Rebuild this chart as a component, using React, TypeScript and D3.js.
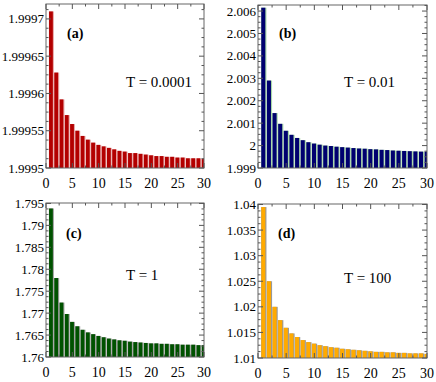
import { useEffect, useRef } from 'react'
import * as d3 from 'd3'

// x positions 1..30 for every panel
const steps = d3.range(1, 31)
const xTicks = [0, 5, 10, 15, 20, 25, 30]

// series
const seriesA = [1.99971, 1.999628, 1.999592, 1.999571, 1.999559, 1.99955, 1.999543, 1.999538, 1.999534, 1.999531,
  1.999529, 1.999527, 1.999525, 1.999523, 1.999522, 1.99952, 1.99952, 1.999519, 1.999518, 1.999517,
  1.999516, 1.999516, 1.999515, 1.999515, 1.999514, 1.999514, 1.999513, 1.999513, 1.999513, 1.999512]
const seriesB = [2.00615, 2.0029, 2.00145, 2.00097, 2.00066, 2.00048, 2.00034, 2.00024, 2.00015, 2.00009,
  2.00004, 2.0, 1.99998, 1.99995, 1.99993, 1.99991, 1.99989, 1.99987, 1.99986, 1.99984,
  1.99983, 1.99981, 1.9998, 1.99978, 1.99977, 1.99976, 1.99975, 1.99974, 1.99973, 1.99973]
const seriesC = [1.79385, 1.778, 1.7724, 1.7698, 1.768, 1.767, 1.7662, 1.7656, 1.7652, 1.7648,
  1.7645, 1.7642, 1.764, 1.7638, 1.7637, 1.7635, 1.7634, 1.7633, 1.7632, 1.7631,
  1.7631, 1.763, 1.763, 1.7629, 1.7629, 1.7628, 1.7628, 1.7628, 1.7627, 1.7627]
const seriesD = [1.0395, 1.025, 1.02, 1.0174, 1.0159, 1.0148, 1.0141, 1.0135, 1.0131, 1.0128,
  1.0125, 1.0123, 1.0121, 1.012, 1.0118, 1.0117, 1.0116, 1.0115, 1.0114, 1.0113,
  1.0112, 1.0112, 1.0111, 1.0111, 1.011, 1.011, 1.0109, 1.0109, 1.0109, 1.0108]

const yTicksA = [1.9995, 1.99955, 1.9996, 1.99965, 1.9997]
const yTicksB = [1.999, 2, 2.001, 2.002, 2.003, 2.004, 2.005, 2.006]
const yTicksC = [1.76, 1.765, 1.77, 1.775, 1.78, 1.785, 1.79, 1.795]
const yTicksD = [1.01, 1.015, 1.02, 1.025, 1.03, 1.035, 1.04]

const panelLabels = ['(a)', '(b)', '(c)', '(d)']
const tempLabels = ['T = 0.0001', 'T = 0.01', 'T = 1', 'T = 100']

const FONT = "'Liberation Serif', 'Times New Roman', 'DejaVu Serif', serif"
const fmt = (v: number) => String(parseFloat(v.toFixed(6)))

function App() {
  const svgRef = useRef<SVGSVGElement>(null)

  useEffect(() => {
    const svg = d3.select(svgRef.current)
    svg.selectAll('*').remove()

    // panel boxes and styles
    const panels = [
      { values: seriesA, ticks: yTicksA, domain: [1.9995, 1.99972], box: [46, 204, 4, 168], fill: '#b30000', edge: '#e8a8a8', tx: 126, ty: 87, lx: 67, ly: 38 },
      { values: seriesB, ticks: yTicksB, domain: [1.999, 2.00627], box: [258, 427, 5, 168], fill: '#000070', edge: '#a8d8a8', tx: 344, ty: 87, lx: 279, ly: 38 },
      { values: seriesC, ticks: yTicksC, domain: [1.76, 1.7951], box: [46, 204, 203, 357], fill: '#005200', edge: '#a0a0a0', tx: 126, ty: 280, lx: 66, ly: 238 },
      { values: seriesD, ticks: yTicksD, domain: [1.01, 1.0401], box: [258, 427, 204, 358], fill: '#ffaa00', edge: '#999999', tx: 344, ty: 283, lx: 278, ly: 238 },
    ]

    panels.forEach((p, pi) => {
      const [x0, x1, y0, y1] = p.box
      const x = d3.scaleLinear().domain([0, 30]).range([x0, x1])
      const y = d3.scaleLinear().domain(p.domain).range([y1, y0])
      const g = svg.append('g')

      const clipId = `clip-${pi}`
      g.append('clipPath').attr('id', clipId)
        .append('rect').attr('x', x0).attr('y', y0).attr('width', x1 - x0).attr('height', y1 - y0)

      const bars = g.append('g').attr('clip-path', `url(#${clipId})`)
      const data = steps.map((s, i) => ({ s, v: p.values[i] }))

      bars.selectAll('rect.edge').data(data).join('rect')
        .attr('class', 'edge')
        .attr('x', d => x(d.s - 0.45))
        .attr('y', d => y(d.v))
        .attr('width', x(0.95) - x(0))
        .attr('height', d => y1 - y(d.v))
        .attr('fill', p.edge)

      bars.selectAll('rect.bar').data(data).join('rect')
        .attr('class', 'bar')
        .attr('x', d => x(d.s - 0.42))
        .attr('y', d => y(d.v))
        .attr('width', x(0.72) - x(0))
        .attr('height', d => y1 - y(d.v))
        .attr('fill', p.fill)

      // frame
      g.append('rect')
        .attr('x', x0).attr('y', y0)
        .attr('width', x1 - x0).attr('height', y1 - y0)
        .attr('fill', 'none').attr('stroke', '#666').attr('stroke-width', 1)

      // y ticks, major and minor, inside on both sides
      const step = p.ticks[1] - p.ticks[0]
      const minor: number[] = []
      p.ticks.forEach(t => {
        for (let k = 1; k < 4; k++) {
          const m = t + (step * k) / 4
          if (m < p.domain[1]) minor.push(m)
        }
      })
      const tickG = g.append('g').attr('stroke', '#555').attr('stroke-width', 1)
      p.ticks.forEach(t => {
        tickG.append('line').attr('x1', x0).attr('x2', x0 + 5).attr('y1', y(t)).attr('y2', y(t))
        tickG.append('line').attr('x1', x1).attr('x2', x1 - 5).attr('y1', y(t)).attr('y2', y(t))
      })
      minor.forEach(t => {
        tickG.append('line').attr('x1', x0).attr('x2', x0 + 2.5).attr('y1', y(t)).attr('y2', y(t))
        tickG.append('line').attr('x1', x1).attr('x2', x1 - 2.5).attr('y1', y(t)).attr('y2', y(t))
      })
      d3.range(0, 30.01, 2.5).forEach(t => {
        const len = t % 5 === 0 ? 5 : 2.5
        tickG.append('line').attr('x1', x(t)).attr('x2', x(t)).attr('y1', y0).attr('y2', y0 + len)
        tickG.append('line').attr('x1', x(t)).attr('x2', x(t)).attr('y1', y1).attr('y2', y1 - len)
      })

      // tick labels
      const textG = g.append('g')
        .style('font-family', FONT)
        .style('font-size', '13px')
        .attr('fill', '#000')
      p.ticks.forEach(t => {
        textG.append('text').attr('x', x0 - 2).attr('y', y(t) + 4.5)
          .attr('text-anchor', 'end').text(fmt(t))
      })
      xTicks.forEach(t => {
        textG.append('text').attr('x', x(t)).attr('y', y1 + 20)
          .style('font-size', '14px')
          .attr('text-anchor', 'middle').text(t)
      })

      g.append('text')
        .attr('x', p.lx).attr('y', p.ly)
        .style('font-family', FONT)
        .style('font-size', '14px').style('font-weight', 'bold')
        .text(panelLabels[pi])

      g.append('text')
        .attr('x', p.tx).attr('y', p.ty)
        .style('font-family', FONT)
        .style('font-size', '15px')
        .text(tempLabels[pi])
    })
  }, [])

  return (
    <svg
      ref={svgRef}
      width={436}
      height={382}
      style={{ position: 'absolute', left: 0, top: 0, background: '#fff' }}
    />
  )
}

export default App
